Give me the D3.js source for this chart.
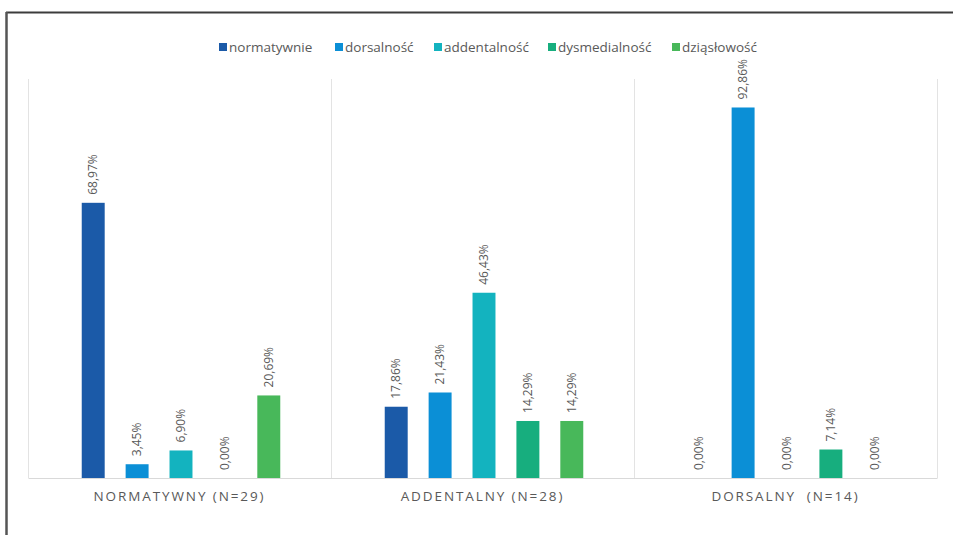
<!DOCTYPE html>
<html>
<head>
<meta charset="utf-8">
<script src="https://cdn.jsdelivr.net/npm/d3@7"></script>
<style>
  html, body { margin: 0; padding: 0; background: #fff; }
  svg { display: block; font-family: "Open Sans", "Noto Sans", sans-serif; }
</style>
</head>
<body>
<svg id="chart" width="953" height="535"></svg>
<script>
// Groups (x categories) and series
const groups = ["NORMATYWNY (N=29)", "ADDENTALNY (N=28)", "DORSALNY  (N=14)"];
const seriesNames = ["normatywnie", "dorsalność", "addentalność", "dysmedialność", "dziąsłowość"];
const seriesColors = ["#1B5AA8", "#0B8FD6", "#13B3BF", "#17AE7E", "#48B85A"];

// Percent values per series, in group order
const normatywnie   = [68.97, 17.86, 0.00];
const dorsalnosc    = [3.45, 21.43, 92.86];
const addentalnosc  = [6.90, 46.43, 0.00];
const dysmedialnosc = [0.00, 14.29, 7.14];
const dziaslowosc   = [20.69, 14.29, 0.00];
const seriesValues = [normatywnie, dorsalnosc, addentalnosc, dysmedialnosc, dziaslowosc];

const svg = d3.select("#chart");
const W = 953, H = 535;
const plot = { left: 28, right: 937, top: 79, bottom: 478 };

// Outer frame (top and left edges)
svg.append("line").attr("x1", 6).attr("x2", W).attr("y1", 12.5).attr("y2", 12.5)
  .attr("stroke", "#3c3c3c").attr("stroke-width", 2);
svg.append("line").attr("x1", 6.5).attr("x2", 6.5).attr("y1", 12).attr("y2", H)
  .attr("stroke", "#555").attr("stroke-width", 2.5);

const x0 = d3.scaleBand().domain(groups).range([plot.left, plot.right]).padding(0);
const x1 = d3.scaleBand().domain(seriesNames).range([1.5, x0.bandwidth() + 1.5])
  .paddingInner(0.477).paddingOuter(1.19);
const y = d3.scaleLinear().domain([0, 100]).range([plot.bottom, plot.top]);

// Vertical separators between groups
const seps = groups.map(g => x0(g)).concat([x0(groups[groups.length - 1]) + x0.bandwidth()]);
svg.append("g").selectAll("line").data(seps).join("line")
  .attr("x1", d => d + 0.5).attr("x2", d => d + 0.5)
  .attr("y1", y(100)).attr("y2", y(0))
  .attr("stroke", "#e3e3e3").attr("stroke-width", 1);

// Baseline axis
const xAxis = svg.append("g").attr("transform", `translate(0,${y(0)})`)
  .call(d3.axisBottom(x0).tickSize(0).tickPadding(13));
xAxis.select(".domain").attr("stroke", "#d9d9d9");
xAxis.selectAll("text")
  .attr("fill", "#595959").attr("font-size", 13.5)
  .attr("letter-spacing", "1.9px")
  .style("white-space", "pre")
  .attr("font-family", "'Open Sans', sans-serif");

// Bars
const data = [];
groups.forEach((g, gi) => {
  seriesNames.forEach((s, si) => {
    data.push({ group: g, series: s, value: seriesValues[si][gi], color: seriesColors[si] });
  });
});

const barsG = svg.append("g");
barsG.selectAll("rect").data(data).join("rect")
  .attr("x", d => x0(d.group) + x1(d.series))
  .attr("y", d => y(d.value))
  .attr("width", x1.bandwidth())
  .attr("height", d => y(0) - y(d.value))
  .attr("fill", d => d.color);

// Rotated value labels
const fmt = v => v.toFixed(2).replace(".", ",") + "%";
barsG.selectAll("text").data(data).join("text")
  .attr("transform", d => {
    const cx = x0(d.group) + x1(d.series) + x1.bandwidth() / 2;
    return `translate(${cx},${y(d.value) - 8}) rotate(-90)`;
  })
  .attr("dy", "0.35em")
  .attr("text-anchor", "start")
  .attr("fill", "#595959")
  .attr("font-size", 12)
  .text(d => fmt(d.value));

// Legend
const legendX = [219, 335, 434, 548, 672];
const legend = svg.append("g");
seriesNames.forEach((s, i) => {
  const gI = legend.append("g").attr("transform", `translate(${legendX[i]},47)`);
  gI.append("rect").attr("x", 0).attr("y", -4).attr("width", 8).attr("height", 8)
    .attr("fill", seriesColors[i]);
  gI.append("text").attr("x", 10).attr("y", 0).attr("dy", "0.35em")
    .attr("fill", "#595959").attr("font-size", 13.5).text(s);
});
</script>
</body>
</html>
